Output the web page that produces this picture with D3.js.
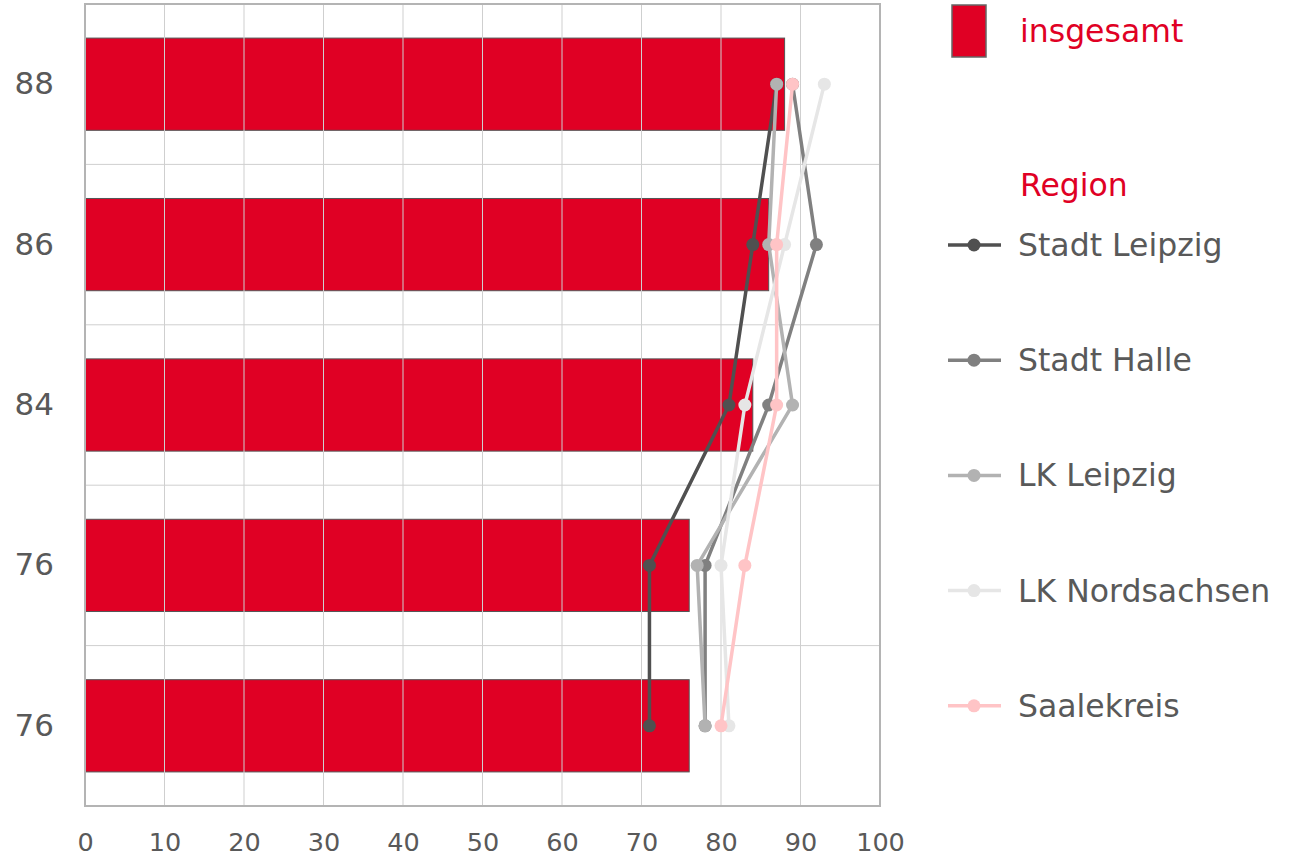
<!DOCTYPE html>
<html><head><meta charset="utf-8">
<script src="https://cdn.jsdelivr.net/npm/d3@7"></script>
<style>body{margin:0;background:#fff}svg{display:block}text{font-family:"DejaVu Sans",Verdana,sans-serif}</style>
</head><body><svg id="c" width="1291" height="858"></svg>
<script>
const categories = ["88","86","84","76","76"];
const totals = [88, 86, 84, 76, 76];
const seriesNames = ["Stadt Leipzig","Stadt Halle","LK Leipzig","LK Nordsachsen","Saalekreis"];
const stadtLeipzig = [87, 84, 81, 71, 71];
const stadtHalle = [89, 92, 86, 78, 78];
const lkLeipzig = [87, 86, 89, 77, 78];
const lkNordsachsen = [93, 88, 83, 80, 81];
const saalekreis = [89, 87, 87, 83, 80];
const xTicks = [0,10,20,30,40,50,60,70,80,90,100];
const seriesColors = ["#505050","#808080","#b2b2b2","#e6e6e6","#ffc4c6"];
const series = [stadtLeipzig, stadtHalle, lkLeipzig, lkNordsachsen, saalekreis];

const svg = d3.select("#c");
const L=85,R=880,T=4,B=806;
const x = d3.scaleLinear().domain([0,100]).range([L,R]);
const y = d3.scaleBand().domain(d3.range(categories.length)).range([T,B]).padding(0);
const bw = y.bandwidth()*0.575;

// bars
svg.append("g").selectAll("rect").data(totals).join("rect")
  .attr("x", x(0)).attr("y",(d,i)=>y(i)+(y.bandwidth()-bw)/2)
  .attr("width", d=>x(d)-x(0)).attr("height", bw)
  .attr("fill","#e00024").attr("stroke","#555").attr("stroke-width",1);

// gridlines
const g = svg.append("g");
g.selectAll("line.v").data(xTicks.slice(1,-1)).join("line")
  .attr("x1",d=>x(d)).attr("x2",d=>x(d)).attr("y1",T).attr("y2",B)
  .attr("stroke","#cfcfcf").attr("stroke-width",1);
g.selectAll("line.h").data(d3.range(1,categories.length)).join("line")
  .attr("x1",L).attr("x2",R).attr("y1",d=>y(d)).attr("y2",d=>y(d))
  .attr("stroke","#cfcfcf").attr("stroke-width",1);
svg.append("rect").attr("x",L).attr("y",T).attr("width",R-L).attr("height",B-T)
  .attr("fill","none").attr("stroke","#b4b4b4").attr("stroke-width",2);

// x axis
const xa = svg.append("g").attr("transform",`translate(0,${B})`)
  .call(d3.axisBottom(x).tickValues(xTicks).tickSize(0).tickPadding(27));
xa.select(".domain").remove();
xa.selectAll("text").attr("font-size",25.5).attr("fill","#595959")
  .attr("font-family","'DejaVu Sans',sans-serif");

// y axis labels
const ya = svg.append("g").attr("transform",`translate(${L},0)`)
  .call(d3.axisLeft(y).tickFormat(i=>categories[i]).tickSize(0).tickPadding(31));
ya.select(".domain").remove();
ya.selectAll("text").attr("font-size",31).attr("fill","#595959")
  .attr("font-family","'DejaVu Sans',sans-serif");

// lines
const cy = i=>y(i)+y.bandwidth()/2;
const line = d3.line().x(d=>x(d)).y((d,i)=>cy(i));
series.forEach((s,k)=>{
  const gg = svg.append("g");
  gg.append("path").attr("d",line(s)).attr("fill","none")
    .attr("stroke",seriesColors[k]).attr("stroke-width",3.5);
  gg.selectAll("circle").data(s).join("circle")
    .attr("cx",d=>x(d)).attr("cy",(d,i)=>cy(i)).attr("r",6.5).attr("fill",seriesColors[k]);
});

// legend
const lg = svg.append("g");
lg.append("rect").attr("x",952).attr("y",5).attr("width",34).attr("height",52)
  .attr("fill","#e00024").attr("stroke","#666").attr("stroke-width",1.5);
lg.append("text").attr("x",1020).attr("y",42).attr("font-size",31.5).attr("fill","#e00024").text("insgesamt");
lg.append("text").attr("x",1020).attr("y",196).attr("font-size",31.5).attr("fill","#e00024").text("Region");
seriesNames.forEach((n,k)=>{
  const yy = 245 + k*115.2;
  lg.append("line").attr("x1",948).attr("x2",1001).attr("y1",yy).attr("y2",yy)
    .attr("stroke",seriesColors[k]).attr("stroke-width",3.5);
  lg.append("circle").attr("cx",974).attr("cy",yy).attr("r",6.5).attr("fill",seriesColors[k]);
  lg.append("text").attr("x",1018).attr("y",yy+11).attr("font-size",31.5).attr("fill","#595959").text(n);
});
</script></body></html>
